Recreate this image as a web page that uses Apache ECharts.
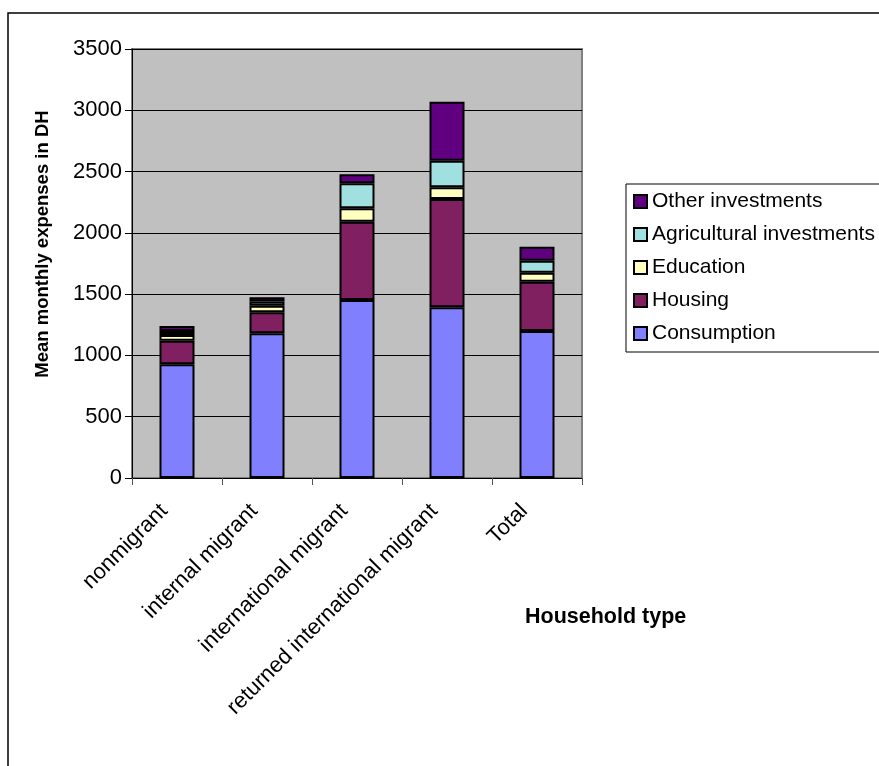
<!DOCTYPE html>
<html>
<head>
<meta charset="utf-8">
<script src="https://cdn.jsdelivr.net/npm/echarts@6/dist/echarts.min.js"></script>
<style>
  html, body { margin: 0; padding: 0; background: #fff; }
  #chart { width: 879px; height: 766px; }
</style>
</head>
<body>
<div id="chart"></div>
<script>
// Household types on the category axis
const householdTypes = ['nonmigrant', 'internal migrant', 'international migrant', 'returned international migrant', 'Total'];

// Mean monthly expenses (DH) per expense category, stacked bottom to top
const consumption = [928, 1181, 1452, 1393, 1199];
const housing     = [192, 171, 639, 883, 403];
const education   = [47, 54, 109, 96, 73];
const agricultural = [32, 33, 204, 217, 98];
const otherInv    = [41, 35, 74, 481, 114];

const yTicks = { min: 0, max: 3500, step: 500 };

const seriesDefs = [
  { name: 'Consumption', data: consumption, color: '#8080FF' },
  { name: 'Housing', data: housing, color: '#802060' },
  { name: 'Education', data: education, color: '#FFFFC0' },
  { name: 'Agricultural investments', data: agricultural, color: '#A0E0E0' },
  { name: 'Other investments', data: otherInv, color: '#600080' }
];

const FONT = 'Liberation Sans, Arial, sans-serif';

const chart = echarts.init(document.getElementById('chart'), null, { renderer: 'canvas' });

chart.setOption({
  animation: false,
  backgroundColor: '#ffffff',
  grid: {
    left: 132, right: 297, top: 49, bottom: 288,
    show: true,
    backgroundColor: '#C0C0C0',
    borderColor: '#808080',
    borderWidth: 2
  },
  legend: {
    data: seriesDefs.map(s => s.name).reverse(),
    orient: 'vertical',
    left: 626, top: 184,
    padding: [7, 8, 8, 7],
    itemGap: 12,
    itemWidth: 13, itemHeight: 13,
    icon: 'rect',
    backgroundColor: '#ffffff',
    borderColor: '#000000',
    borderWidth: 1,
    borderRadius: 0,
    textStyle: { fontFamily: FONT, fontSize: 21, color: '#000' }
  },
  xAxis: {
    type: 'category',
    data: householdTypes,
    axisLine: { lineStyle: { color: '#000', width: 1 } },
    axisTick: { show: true, length: 7, alignWithLabel: false, lineStyle: { color: '#555' } },
    axisLabel: {
      interval: 0, rotate: 45, margin: 17,
      padding: [0, 18, 0, 0],
      fontFamily: FONT, fontSize: 22, color: '#000'
    },
    splitLine: { show: false }
  },
  yAxis: {
    type: 'value',
    min: yTicks.min, max: yTicks.max, interval: yTicks.step,
    axisLine: { show: true, lineStyle: { color: '#000', width: 1 } },
    axisTick: { show: true, length: 7, lineStyle: { color: '#000' } },
    axisLabel: {
      fontFamily: FONT, fontSize: 22, color: '#000', margin: 10,
      formatter: v => String(v)
    },
    splitLine: { show: true, lineStyle: { color: '#000', width: 1 } }
  },
  graphic: [
    {
      type: 'rect',
      shape: { x: 8, y: 13, width: 900, height: 800 },
      style: { fill: 'none', stroke: '#000', lineWidth: 1.5 },
      z: -10
    },
    {
      type: 'text',
      x: 43, y: 244,
      rotation: Math.PI / 2,
      style: {
        text: 'Mean monthly expenses in DH',
        font: 'bold 18.5px ' + FONT, fill: '#000',
        align: 'center', verticalAlign: 'middle'
      }
    },
    {
      type: 'text',
      left: 525, top: 606,
      style: { text: 'Household type', font: 'bold 21.5px ' + FONT, fill: '#000' }
    }
  ],
  series: seriesDefs.map(s => ({
    name: s.name,
    type: 'bar',
    stack: 'expenses',
    data: s.data,
    barWidth: 35,
    itemStyle: { color: s.color, borderColor: '#000', borderWidth: 2 }
  }))
});
</script>
</body>
</html>
